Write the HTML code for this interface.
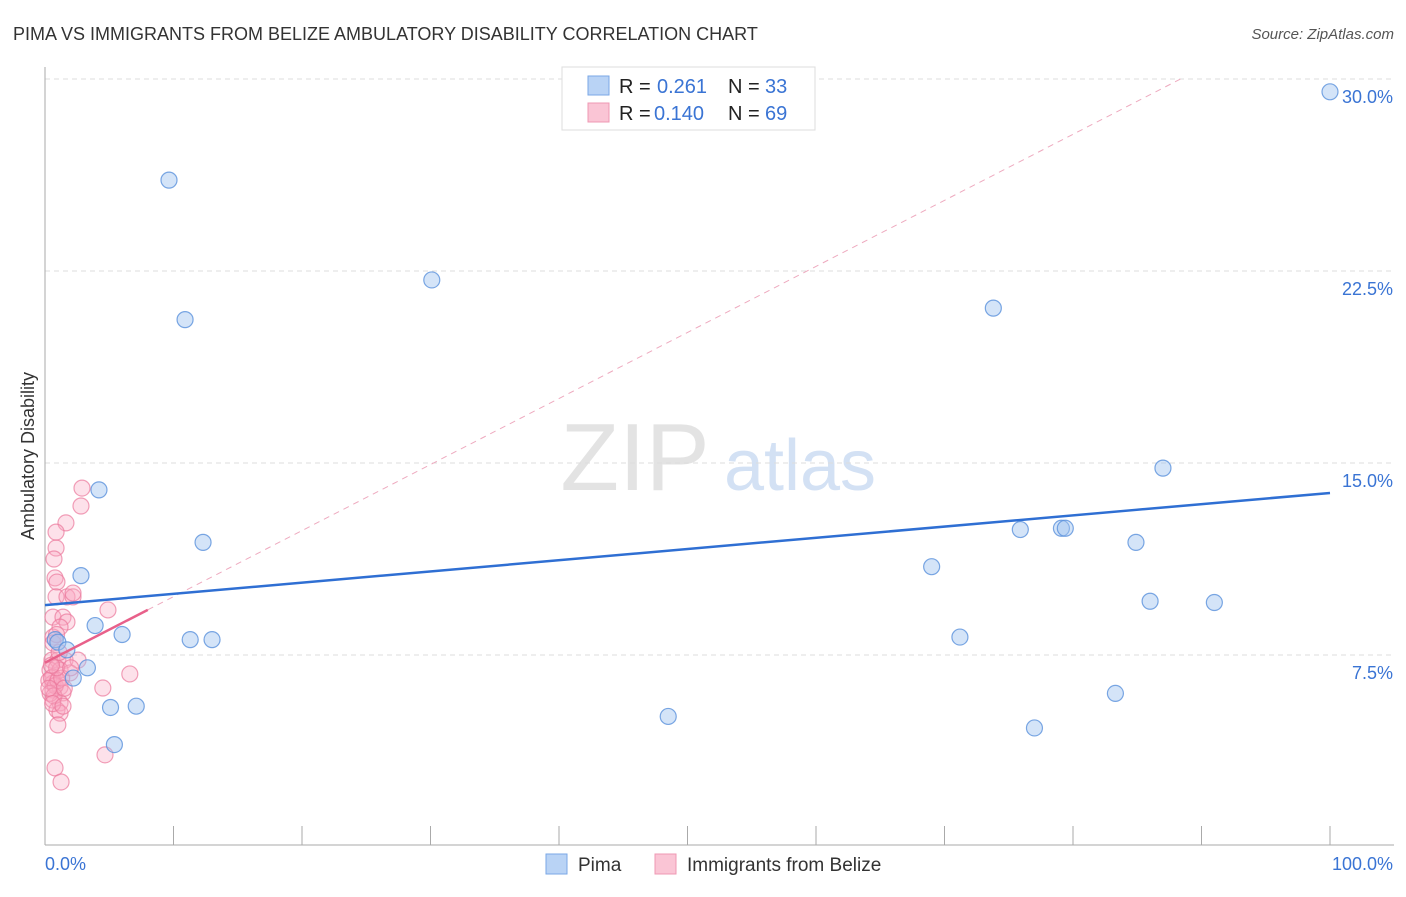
<!DOCTYPE html>
<html><head><meta charset="utf-8">
<style>
body{margin:0;background:#fff;font-family:"Liberation Sans",sans-serif;}
svg text{font-family:"Liberation Sans",sans-serif;}
</style></head>
<body>
<svg id="chart" width="1406" height="892" viewBox="0 0 1406 892" xmlns="http://www.w3.org/2000/svg">
<text x="13" y="40" font-size="18" fill="#333">PIMA VS IMMIGRANTS FROM BELIZE AMBULATORY DISABILITY CORRELATION CHART</text>
<text x="1394" y="39" font-size="15" fill="#555" font-style="italic" text-anchor="end">Source: ZipAtlas.com</text>
<text x="34" y="456" font-size="18" fill="#333" text-anchor="middle" transform="rotate(-90 34 456)">Ambulatory Disability</text>
<g>
<text x="635" y="490" font-size="96" fill="#ddd" font-family="Liberation Serif" text-anchor="middle" opacity="0.8">ZIP</text>
<text x="800" y="490" font-size="72" fill="#c9daf2" text-anchor="middle" opacity="0.8">atlas</text>
</g>
<g id="grid"></g>
<g id="axes"></g>
<g id="marks"></g>
<g>
<rect x="562" y="67" width="253" height="63" fill="#fff" stroke="#ddd"/>
<rect x="588" y="76" width="21" height="19" fill="#b9d3f5" stroke="#7aa7e6"/>
<rect x="588" y="103" width="21" height="19" fill="#fac5d5" stroke="#ef98b3"/>
<text x="619" y="93" font-size="20" fill="#222">R = </text><text x="657" y="93" font-size="20" fill="#3a74d4">0.261</text>
<text x="728" y="93" font-size="20" fill="#222">N = </text><text x="765" y="93" font-size="20" fill="#3a74d4">33</text>
<text x="619" y="120" font-size="20" fill="#222">R = </text><text x="654" y="120" font-size="20" fill="#3a74d4">0.140</text>
<text x="728" y="120" font-size="20" fill="#222">N = </text><text x="765" y="120" font-size="20" fill="#3a74d4">69</text>
</g>
<g>
<rect x="546" y="854" width="21" height="20" fill="#b9d3f5" stroke="#7aa7e6"/>
<text x="578" y="871" font-size="19" fill="#333">Pima</text>
<rect x="655" y="854" width="21" height="20" fill="#fac5d5" stroke="#ef98b3"/>
<text x="687" y="871" font-size="19" fill="#333">Immigrants from Belize</text>
</g>
</svg>
<script>
const yTicks=[7.5,15,22.5,30];
const yTickLabels=["7.5%","15.0%","22.5%","30.0%"];
const xTickCount=10;
const pimaX=[100,9.65,30.1,10.9,73.8,87.0,4.2,12.3,75.9,79.1,79.4,84.9,69.0,2.8,86.0,91.0,3.9,6.0,11.3,13.0,71.2,0.8,1.0,1.7,3.3,2.2,83.3,5.1,7.1,48.5,77.0,5.4];
const pimaY=[29.5,26.05,22.15,20.6,21.05,14.8,13.95,11.9,12.4,12.45,12.45,11.9,10.95,10.6,9.6,9.55,8.65,8.3,8.1,8.1,8.2,8.1,8.0,7.7,7.0,6.6,6.0,5.45,5.5,5.1,4.65,4.0];
const belizeX=[2.88,2.8,1.63,0.86,0.86,0.7,0.78,0.93,0.86,1.71,2.18,2.18,4.9,0.62,1.4,1.71,1.17,0.62,0.62,0.54,1.0,1.56,2.57,0.39,1.17,1.95,6.6,0.62,0.62,0.62,1.17,4.5,1.4,0.62,1.17,0.93,1.17,1.0,4.67,0.78,1.25,0.3,0.5,0.8,1.0,0.4,0.7,1.3,0.9,0.5,1.5,0.3,1.1,0.6,1.4,2.0,0.9];
const belizeY=[14.02,13.32,12.66,12.3,11.68,11.25,10.51,10.35,9.77,9.77,9.77,9.92,9.26,8.98,8.98,8.79,8.59,8.2,7.97,7.3,7.3,7.3,7.3,6.91,6.91,6.8,6.76,6.64,6.4,6.13,6.25,6.21,6.02,5.74,5.63,5.35,5.23,4.77,3.6,3.09,2.54,6.5,6.6,6.3,6.5,6.0,5.9,6.6,7.0,7.1,6.2,6.2,7.6,5.6,5.5,7.0,8.3];
const pimaTrend=[9.45,13.83];
const belizeTrend=[7.2,0.258];
const X=v=>45+v*12.85;
const Y=v=>847-v*25.6;
const NS="http://www.w3.org/2000/svg";
function mk(tag,attrs,parent){const e=document.createElementNS(NS,tag);for(const k in attrs)e.setAttribute(k,attrs[k]);parent.appendChild(e);return e;}
const grid=document.getElementById('grid'),axes=document.getElementById('axes'),marks=document.getElementById('marks');
yTicks.forEach((t,i)=>{
 const l=mk('line',{x1:45,x2:1394,y1:Y(t),y2:Y(t),stroke:'#ddd','stroke-dasharray':'5,4'},grid);
 
 
 const tx=mk('text',{x:1393,y:Y(t)+24,'font-size':18,fill:'#3a74d4','text-anchor':'end'},axes);
 tx.textContent=yTickLabels[i];
 
 
});
const ax=mk('line',{x1:45,x2:1394,y1:845,y2:845,stroke:'#aaa'},axes);


const ay=mk('line',{x1:45,x2:45,y1:67,y2:845,stroke:'#aaa'},axes);


for(let i=0;i<=xTickCount;i++){
 const x=X(i*100/xTickCount);
 const t=mk('line',{x1:x,x2:x,y1:826,y2:845,stroke:'#aaa'},axes);
 
 
}
const xl0=mk('text',{x:45,y:870,'font-size':18,fill:'#3a74d4'},axes);xl0.textContent='0.0%';


const xl1=mk('text',{x:1393,y:870,'font-size':18,fill:'#3a74d4','text-anchor':'end'},axes);xl1.textContent='100.0%';


// dashed extension of belize trend
const xEnd=(30-belizeTrend[0])/belizeTrend[1];
const de=mk('line',{x1:X(8),y1:Y(belizeTrend[0]+belizeTrend[1]*8),x2:X(xEnd),y2:Y(30),stroke:'#eeaabf','stroke-dasharray':'6,5'},marks);


belizeX.forEach((v,i)=>{
 const c=mk('circle',{cx:X(v),cy:Y(belizeY[i]),r:8,fill:'rgba(248,170,195,0.35)',stroke:'rgba(235,120,155,0.7)','stroke-width':1.2},marks);
 
 
});
pimaX.forEach((v,i)=>{
 const c=mk('circle',{cx:X(v),cy:Y(pimaY[i]),r:8,fill:'rgba(160,196,240,0.45)',stroke:'rgba(90,145,220,0.8)','stroke-width':1.2},marks);
 
 
});
const pt=mk('line',{x1:X(0),y1:Y(pimaTrend[0]),x2:X(100),y2:Y(pimaTrend[1]),stroke:'#2f6fd3','stroke-width':2.5},marks);


const bt=mk('line',{x1:X(0),y1:Y(belizeTrend[0]),x2:X(8),y2:Y(belizeTrend[0]+belizeTrend[1]*8),stroke:'#e8608a','stroke-width':2.5},marks);


</script>
</body></html>
